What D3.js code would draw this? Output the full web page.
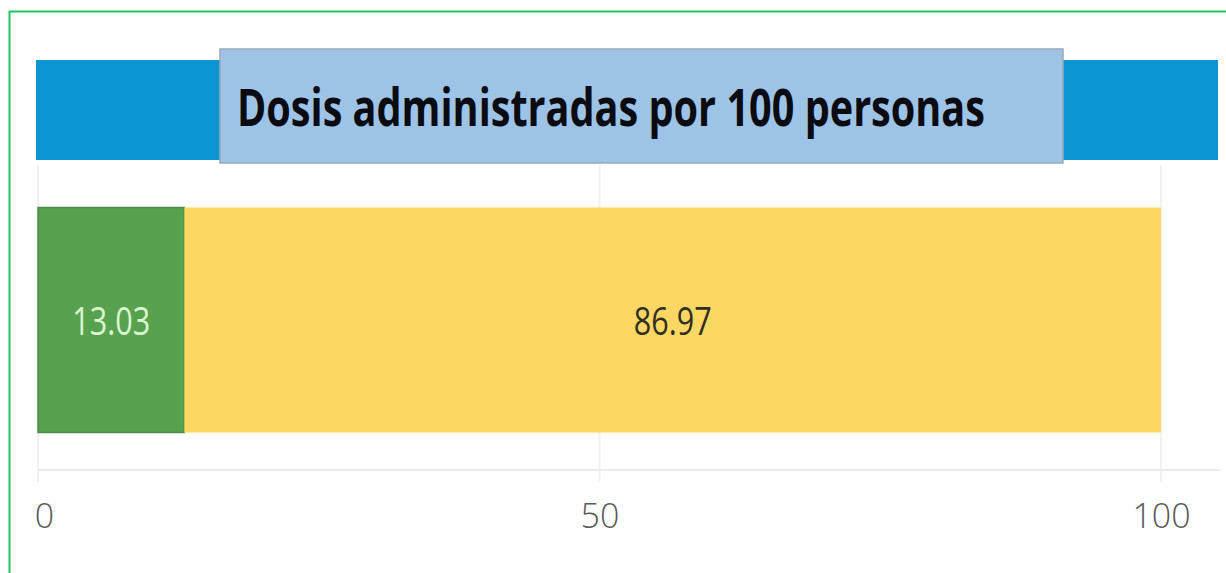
<!DOCTYPE html>
<html lang="es">
<head>
<meta charset="UTF-8">
<title>Dosis administradas por 100 personas</title>
<script src="https://d3js.org/d3.v7.min.js"></script>
<style>
  html, body { margin: 0; padding: 0; background: #fff; overflow: hidden; }
</style>
</head>
<body>
<div id="chart"></div>
<script>
// data
const categories = ["Dosis"];
const seriesKeys = ["administradas", "restantes"];
const administradas = [13.03];
const restantes = [86.97];
const tickValues = [0, 50, 100];
const title = "Dosis administradas por 100 personas";

const width = 1226, height = 573;
const colors = { administradas: "#58a14f", restantes: "#fdd764" };
const labelColors = { administradas: "#d9f6cf", restantes: "#2f2f22" };

const svg = d3.select("#chart").append("svg")
  .attr("width", width)
  .attr("height", height)
  .style("font-family", "'Open Sans', sans-serif");

// outer green frame (runs off the right and bottom edges)
svg.append("rect")
  .attr("x", 9.5).attr("y", 11.5)
  .attr("width", width + 20).attr("height", height + 20)
  .attr("fill", "#fff")
  .attr("stroke", "#22c55e")
  .attr("stroke-width", 2);

const x = d3.scaleLinear().domain([0, 100]).range([38, 1161]);
const y = d3.scaleBand().domain(categories).range([170, 470])
  .paddingInner(0).paddingOuter(1 / 6);

// table for the stack
const table = categories.map((c, i) => ({
  category: c,
  administradas: administradas[i],
  restantes: restantes[i]
}));
const stacked = d3.stack().keys(seriesKeys)(table);

// gridlines
svg.append("g")
  .selectAll("line")
  .data(tickValues)
  .join("line")
  .attr("x1", d => x(d)).attr("x2", d => x(d))
  .attr("y1", 165).attr("y2", 482)
  .attr("stroke", "#f0f0f0")
  .attr("stroke-width", 2);

// baseline of the axis
svg.append("line")
  .attr("x1", x(0)).attr("x2", 1220)
  .attr("y1", 470).attr("y2", 470)
  .attr("stroke", "#ececec")
  .attr("stroke-width", 2);

// tick labels through d3 axis
const axis = d3.axisBottom(x).tickValues(tickValues).tickSize(0).tickPadding(0);
const gAxis = svg.append("g")
  .attr("transform", "translate(0,504)")
  .call(axis);
gAxis.select(".domain").remove();
gAxis.selectAll("text")
  .attr("dy", "0.71em")
  .attr("fill", "#5a5a5a")
  .style("font-family", "'Open Sans', sans-serif")
  .style("font-weight", 300)
  .style("font-size", "34px");
gAxis.selectAll(".tick").filter(d => d === 0)
  .select("text").attr("dx", 6);

// bars
const layers = svg.append("g")
  .selectAll("g")
  .data(stacked)
  .join("g")
  .attr("fill", d => colors[d.key]);

layers.selectAll("rect")
  .data(d => d.map(v => ({ key: d.key, v })))
  .join("rect")
  .attr("x", d => x(d.v[0]))
  .attr("y", d => y(d.v.data.category))
  .attr("width", d => x(d.v[1]) - x(d.v[0]))
  .attr("height", y.bandwidth())
  .attr("stroke", d => d.key === "administradas" ? "#4a8a43" : "none")
  .attr("stroke-width", 1.5);

// value labels
layers.selectAll("text")
  .data(d => d.map(v => ({ key: d.key, v })))
  .join("text")
  .attr("x", d => (x(d.v[0]) + x(d.v[1])) / 2)
  .attr("y", d => y(d.v.data.category) + y.bandwidth() / 2)
  .attr("text-anchor", "middle")
  .attr("dominant-baseline", "central")
  .attr("fill", d => labelColors[d.key])
  .style("font-size", "38px")
  .attr("textLength", 78)
  .attr("lengthAdjust", "spacingAndGlyphs")
  .text(d => (d.v[1] - d.v[0]).toFixed(2));

// title banner
svg.append("rect")
  .attr("x", 36).attr("y", 60)
  .attr("width", 1182).attr("height", 100)
  .attr("fill", "#0b95d1");

svg.append("rect")
  .attr("x", 220).attr("y", 49)
  .attr("width", 843).attr("height", 114)
  .attr("fill", "#9dc3e6")
  .attr("stroke", "#9aa9b8")
  .attr("stroke-width", 1.5);

svg.append("text")
  .attr("x", 237).attr("y", 126)
  .attr("fill", "#0b0b12")
  .style("font-weight", 700)
  .style("font-size", "52px")
  .attr("textLength", 748)
  .attr("lengthAdjust", "spacingAndGlyphs")
  .text(title);
</script>
</body>
</html>
